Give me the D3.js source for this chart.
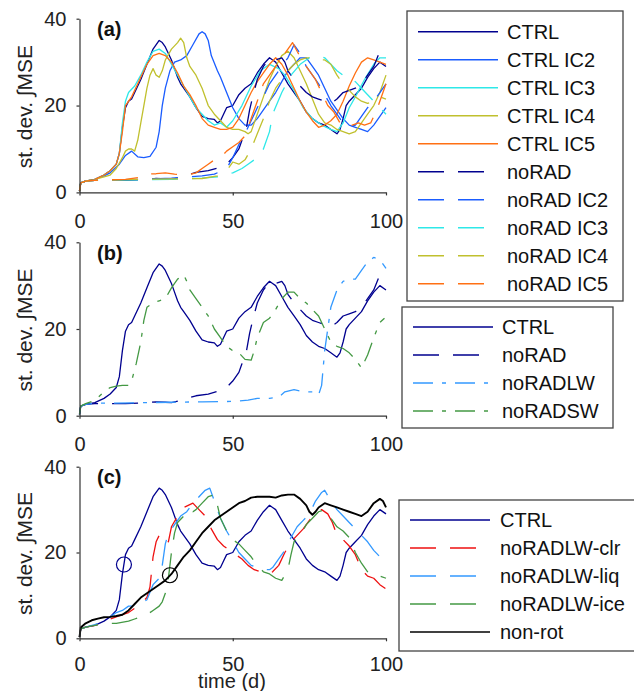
<!DOCTYPE html>
<html>
<head>
<meta charset="utf-8">
<script src="https://cdn.jsdelivr.net/npm/d3@7"></script>
<style>
  body { margin: 0; background: #fff; }
  text { font-family: "Liberation Sans", Arial, sans-serif; }
</style>
</head>
<body>
<div id="chart"></div>
<script>
// [day, value] pairs
var ctrl = [[0,0.3],[0.4,2.2],[2,2.6],[5,3],[8,4],[10,5],[12,6.5],[13,9],[14,15],[15,19.5],[16,21],[17,21.5],[18,23],[20,26],[22,29.5],[24,33],[26,35],[27,34.5],[28,33.5],[29,32],[30,30.5],[31,28.5],[32,26.5],[33,25],[34,24],[36,22],[38,19.5],[40,17.5],[42,17],[44,16.8],[45,16],[46,16.5],[47,18],[48,19.5],[50,20],[52,22.5],[54,24],[56,25],[58,27.5],[60,29.5],[62,31],[63,30.5],[64,30],[66,27.5],[68,25],[70,23],[72,21],[74,18.5],[76,17],[78,16],[80,15.5],[82,14.5],[84,13.5],[85,14.5],[86,17],[87,20],[88,21],[90,22.5],[92,24],[94,26.5],[96,28.5],[98,30],[100,29]];
var ctrlIC2 = [[0,0.3],[0.4,2.2],[2,2.6],[5,3],[8,3.8],[10,4.5],[13,6.5],[15,8.5],[17,9.5],[19,8.2],[21,8],[23,8.3],[25,10.4],[26,14],[27,20],[28,24],[29.5,28],[31,30],[33,30.5],[35,31.5],[37,34],[39,36.5],[40,37],[41,36.5],[42,35],[43,31.5],[45,28],[46,26.5],[48,23],[50,19.5],[52,17],[54,15.5],[56,15.5],[58,17],[60,19],[62,21],[64,23],[66,25.5],[68,28],[70,29.5],[72,31],[74,31],[76,29],[78,27],[80,24],[82,21],[84,19],[86,17],[88,15.5],[90,15],[92,14.5],[94,14],[96,15.5],[98,17.5],[100,19.5]];
var ctrlIC3 = [[0,0.3],[0.4,2.2],[2,2.6],[5,3],[8,4],[10,5],[12,6.5],[13,9],[14,16],[15,21],[16,23],[18,24.5],[20,27],[22,30],[24,32.5],[26,33],[28,32],[30,29.5],[32,27],[34,24.5],[36,22],[38,19.5],[40,18],[42,16.5],[44,15.5],[46,16],[48,15],[50,16.5],[53,20],[56,24.5],[59,28],[62,29.5],[65,28.5],[67,27],[70,23.5],[73,19.5],[76,17],[79,15.5],[82,14.5],[84,14],[86,16],[88,19.5],[90,22],[93,26],[96,29.5],[98,31],[100,31]];
var ctrlIC4 = [[0,0.3],[0.4,2.2],[2,2.6],[5,3],[8,3.6],[10,4],[12,5.5],[14,8],[15,9.5],[16,10],[17,10],[18,9.5],[19,12],[20,16],[21,20],[22,24],[23,27],[24,28.5],[25,27],[26,26.5],[27,28],[28,30.5],[30,33],[32,34.5],[33,35.5],[34,34.5],[35,31],[36,29],[38,27],[40,24],[42,20],[44,18],[46,16.5],[48,15],[50,14.5],[52,14.5],[54,14],[55,13.5],[56,14],[58,18],[60,22],[62,26],[64,29],[66,31.5],[68,32.5],[70,31],[72,28],[74,25],[76,21.5],[78,18],[80,16],[82,15.5],[84,14.5],[86,14],[88,13.5],[90,14],[92,16],[94,18],[96,20],[98,23],[100,27]];
var ctrlIC5 = [[0,0.3],[0.4,2.2],[2,2.6],[5,3],[8,4],[10,5],[12,6.5],[13,9],[14,14],[15,20],[17,22],[20,26.5],[22,29.5],[24,31.5],[26,32],[28,31.5],[30,30],[32,27.5],[34,24.5],[36,22.5],[38,20],[40,17],[42,15.5],[44,15],[46,14.5],[48,14.5],[50,15],[52,17],[54,20],[56,23],[58,25.5],[60,27.5],[62,29.5],[64,31],[66,29.5],[68,27],[70,24],[72,21],[74,18.5],[76,16.5],[78,15],[80,15.5],[82,16.5],[84,18],[86,21],[88,24.5],[90,27.5],[92,30],[94,31],[96,30.5],[98,30],[100,29.5]];
var noRAD = [[0,0.3],[0.4,2.2],[2,2.6],[5,2.8],[10,2.8],[15,2.8],[20,2.9],[25,3.2],[28,3.1],[30,3],[33,3.5],[35,4],[38,4.6],[42,5],[46,5.8],[48,6.5],[50,8],[52,10],[53,12],[54.5,15],[55.5,19],[56.5,22],[58,26],[60,29],[62,30.8],[64,30.5],[66,31],[67,30],[68,28],[70,26],[72,24.5],[74,23],[76,22],[78,21.5],[80,21],[82,20.5],[84,21.5],[86,23],[88,23.5],[90,24],[92,25],[94,27],[96,29],[98,32.5],[100,31.5]];
var noRADIC2 = [[0,0.3],[0.4,2.2],[2,2.6],[5,2.8],[10,2.9],[20,3],[30,3.3],[40,3.8],[44,4.2],[48,5.5],[50,8],[52,11],[54,13.5],[56,16.5],[58,19.5],[60,22],[62,25],[64,27],[66,29],[68,31],[70,34],[72,32],[74,29],[76,27],[78,25],[80,22.5],[82,20],[84,18],[86,16],[88,15],[90,15.5],[92,17.5],[94,19.5],[96,21],[98,23],[100,25]];
var noRADIC3 = [[0,0.3],[0.4,2.2],[2,2.6],[5,2.8],[10,2.8],[20,2.9],[30,3],[40,3.3],[45,3.6],[47,4],[50,4.5],[53,5.5],[55,6.5],[57,7.5],[60,10],[62,14],[63,18],[66,23],[69,27],[72,29.5],[75,31],[78,31.5],[80,31],[82,29.5],[84,28],[86,27],[88,26.5],[90,25.5],[92,24],[94,22.5],[96,21],[98,19.5],[100,18]];
var noRADIC4 = [[0,0.3],[0.4,2.2],[2,2.6],[5,2.8],[10,2.9],[20,3],[30,3.1],[40,3.2],[45,3.8],[48,5],[50,7],[52,6.5],[54,7.5],[56,10],[58,13.5],[60,17],[62,21],[64,24],[66,26],[68,28],[70,29.5],[72,30.5],[74,31],[76,31],[78,30.5],[80,30.5],[82,29.5],[84,27],[86,25],[88,23.5],[90,22],[92,21],[94,20.5],[96,21],[98,22],[100,21.5]];
var noRADIC5 = [[0,0.3],[0.4,2.2],[2,2.6],[5,2.8],[10,2.9],[15,3],[20,3.5],[22,4.2],[25,4.3],[28,4.5],[31,4.2],[35,4],[38,4.5],[40,5.5],[42,6.5],[44,7.5],[46,8],[48,9.5],[50,10.5],[52,11.5],[54,13],[56,17],[58,21],[60,25],[62,27],[64,29],[66,31],[68,33],[69.5,34.5],[71,32.5],[73,30],[75,28],[77,26],[79,23],[81,20],[83,18.5],[85,16],[87,15],[89,15.5],[91,16],[93,15.5],[95,16],[97,19],[99,23],[100,25]];
var noRADLW = [[0,0.3],[0.4,2.2],[2,2.6],[5,2.9],[10,2.9],[20,3],[30,3.1],[40,3.2],[50,3.3],[55,3.6],[58,4],[62,4],[65,4.3],[67,5.5],[70,6],[73,5.5],[76,5.5],[78,4.8],[79,7],[80,15],[81,20],[82,25],[84,29],[86,31],[88,31.5],[90,31.5],[92,33.5],[94,35.5],[96,36.5],[98,36],[100,34]];
var noRADSW = [[0,0.3],[0.4,2.2],[2,2.8],[5,3.5],[8,5.5],[10,6.5],[12,6.8],[14,7],[16,7],[17,8],[18.5,12],[20,17],[21,22],[22,25],[24,26],[26,26.5],[28,27],[30,29.5],[32,31.5],[34,32.5],[35,31],[36,29],[38,27],[40,25],[42,23],[44,20],[46,18],[48,16],[50,15],[52,14.5],[54,13],[56,12.8],[57,15],[58,18],[60,21.5],[62,22.5],[64,24.5],[66,27],[68,28.5],[70,28.5],[72,27],[74,26],[76,24.5],[78,23],[80,20],[82,17],[84,16],[86,15.5],[88,14.5],[90,13],[92,11],[94,14],[96,18],[98,21.5],[99.5,22.5]];
var lwClr = [[0,0.3],[0.4,2.2],[2,2.6],[5,3],[8,3.8],[10,4.5],[14,5.5],[16,6],[18,7],[20,8],[22,9.5],[23,12],[24,19],[25,22.5],[26,24],[27,24.5],[28,23.5],[29,22.5],[30,26],[32,28.5],[34,30.5],[37,31.5],[39,30],[41,28.5],[43,25.5],[45,23],[47,21.5],[49,20.5],[51,19.5],[53,18.5],[55,17],[57,16],[59,15.5],[61,15],[63,15.5],[65,17],[67,20],[69,22.5],[71,24],[73,25.5],[75,27.5],[77,29],[79,30],[81,29],[82.5,27],[84,24],[86,23],[88,21.5],[90,19.5],[92,16],[94,14.5],[96,14],[98,12.5],[100,11.5]];
var lwLiq = [[0,0.3],[0.4,2.2],[2,2.6],[5,3.2],[8,4],[10,5],[12,6],[14,6.5],[16,7.5],[18,7.5],[20,8],[22,9],[24,12.5],[26,14],[27,17],[28,22],[29,24.5],[31,26.5],[33,28.5],[35,29.5],[37,31.5],[39,33],[41,34.5],[42.5,35],[44,32],[46,28],[48,25],[50,22.5],[52,20],[54,18.5],[56,17],[58,16.5],[60,16],[62,16],[63,16.5],[65,18.5],[67,20.5],[69,23.5],[71,26],[73,27.5],[75,29],[77,32],[79,34],[80,34.5],[82,32],[84,30],[86,28.5],[88,27],[90,25.5],[92,24],[94,22.5],[96,20.5],[98,19],[100,17]];
var lwIce = [[0,0.3],[0.4,2.2],[2,2.6],[5,3],[9,3.5],[12,3.5],[16,4],[18,4.5],[20,5],[22,5.5],[24,6.5],[26,7.5],[27,8.5],[28,10.5],[29,14],[30,20],[31,24.5],[32,27],[34,28.5],[35,30],[37,29.5],[38,30],[40,31.5],[42,33],[44,33.5],[45,31],[46,28],[48,25],[50,23],[52,22],[54,20.5],[56,19],[58,17],[60,15.5],[62,15],[64,14],[66,13.5],[68,16],[69,19.5],[70,22.5],[72,24],[74,26.5],[76,28],[78,29.5],[80,30],[82,28],[84,26],[86,25],[88,23.5],[90,20],[92,17.5],[94,15.5],[96,14.5],[98,14.5],[100,14]];
var nonRot = [[0,0.3],[0.4,2.5],[2,3.5],[4,4.2],[6,4.6],[8,4.9],[10,5],[12,5.2],[14,5.5],[16,6.5],[18,8],[20,9.5],[22,10.5],[24,11.5],[26,12.5],[28,13.5],[30,15],[32,17],[34,19],[36,20.5],[38,22.5],[40,24.5],[42,26],[44,27.5],[46,28.5],[48,29.5],[50,30.5],[52,31.5],[54,32],[56,32.8],[58,33],[60,33],[62,33],[64,32.8],[66,33.3],[68,33.5],[70,33.5],[72,32.5],[74,31],[75,29.5],[76,28.8],[77,29.5],[78,30.5],[80,31.5],[82,31],[84,30.5],[86,30],[88,29.5],[90,29],[92,28.5],[94,29.5],[96,31.5],[98,32.5],[99,32],[100,30.5]];

// circled points in panel (c)
var markers = [[14.5, 17.2, "#00008f"], [29.5, 14.7, "#000"]];

var xTicks = [0, 50, 100];
var yTicks = [0, 20, 40];

var solid = null, dashed = "26,14", dashDot = "20,9,4,9";

var panels = [
  { label: "(a)", top: 18.7, bottom: 192.4,
    legend: { x0: 407, x1: 623, y0: 11, y1: 301, line: 418, text: 507, first: 31.7 },
    series: [
      { name: "CTRL", data: ctrl, color: "#00008f", dash: solid },
      { name: "CTRL IC2", data: ctrlIC2, color: "#1a5cff", dash: solid },
      { name: "CTRL IC3", data: ctrlIC3, color: "#2ee8e8", dash: solid },
      { name: "CTRL IC4", data: ctrlIC4, color: "#c0c02e", dash: solid },
      { name: "CTRL IC5", data: ctrlIC5, color: "#ff7014", dash: solid },
      { name: "noRAD", data: noRAD, color: "#00008f", dash: dashed },
      { name: "noRAD IC2", data: noRADIC2, color: "#1a5cff", dash: dashed },
      { name: "noRAD IC3", data: noRADIC3, color: "#2ee8e8", dash: dashed },
      { name: "noRAD IC4", data: noRADIC4, color: "#c0c02e", dash: dashed },
      { name: "noRAD IC5", data: noRADIC5, color: "#ff7014", dash: dashed }
    ] },
  { label: "(b)", top: 242.3, bottom: 415.7,
    legend: { x0: 402, x1: 613, y0: 307, y1: 428, line: 413, text: 502, first: 327 },
    series: [
      { name: "CTRL", data: ctrl, color: "#00008f", dash: solid },
      { name: "noRAD", data: noRAD, color: "#00008f", dash: dashed },
      { name: "noRADLW", data: noRADLW, color: "#3399ff", dash: dashDot },
      { name: "noRADSW", data: noRADSW, color: "#449944", dash: dashDot }
    ] },
  { label: "(c)", top: 466.7, bottom: 638.3, xTitle: "time (d)", circles: true,
    legend: { x0: 399, x1: 645, y0: 500, y1: 651, line: 410, text: 500, first: 520 },
    series: [
      { name: "CTRL", data: ctrl, color: "#00008f", dash: solid },
      { name: "noRADLW-clr", data: lwClr, color: "#ee1111", dash: dashed },
      { name: "noRADLW-liq", data: lwLiq, color: "#3399ff", dash: dashed },
      { name: "noRADLW-ice", data: lwIce, color: "#449944", dash: dashed },
      { name: "non-rot", data: nonRot, color: "#000000", dash: solid, width: 1.9 }
    ] }
];

var svg = d3.select("#chart").append("svg")
  .attr("width", 634)
  .attr("height", 691);

var x = d3.scaleLinear().domain([0, 100]).range([79.5, 386]);

panels.forEach(function (p) {
  var y = d3.scaleLinear().domain([0, 40]).range([p.bottom, p.top]);
  var g = svg.append("g");

  var line = d3.line()
    .x(function (d) { return x(d[0]); })
    .y(function (d) { return y(d[1]); });

  p.series.forEach(function (s) {
    g.append("path")
      .attr("d", line(s.data))
      .attr("fill", "none")
      .attr("stroke", s.color)
      .attr("stroke-width", s.width || 1.3)
      .attr("stroke-dasharray", s.dash)
      .attr("stroke-linejoin", "round");
  });

  if (p.circles) {
    markers.forEach(function (m) {
      g.append("circle")
        .attr("cx", x(m[0]))
        .attr("cy", y(m[1]))
        .attr("r", 7.5)
        .attr("fill", "none")
        .attr("stroke", m[2])
        .attr("stroke-width", 1.2);
    });
  }

  // axes
  var xAxis = g.append("g")
    .attr("transform", "translate(0," + p.bottom + ")")
    .call(d3.axisBottom(x).tickValues(xTicks).tickSize(3).tickSizeOuter(0).tickPadding(p.xTitle ? 16 : 18));
  var yAxis = g.append("g")
    .attr("transform", "translate(" + x(0) + ",0)")
    .call(d3.axisLeft(y).tickValues(yTicks).tickSize(3).tickSizeOuter(0).tickPadding(10));
  [xAxis, yAxis].forEach(function (a) {
    a.selectAll("path, line").attr("stroke", "#333").attr("stroke-width", 1.2);
    a.selectAll("text")
      .attr("fill", "#222")
      .style("font-size", "20px")
      .style("font-family", "'Liberation Sans', Arial, sans-serif");
  });

  g.append("text")
    .attr("x", 97)
    .attr("y", p.top + 17.5)
    .attr("font-size", 20)
    .attr("font-weight", "bold")
    .attr("fill", "#111")
    .text(p.label);

  g.append("text")
    .attr("transform", "translate(32," + ((p.top + p.bottom) / 2 + 1) + ") rotate(-90)")
    .attr("text-anchor", "middle")
    .attr("font-size", 21)
    .attr("fill", "#222")
    .text("st. dev.  \u222BMSE");

  if (p.xTitle) {
    g.append("text")
      .attr("x", 232)
      .attr("y", p.bottom + 49.5)
      .attr("text-anchor", "middle")
      .attr("font-size", 20)
      .attr("fill", "#222")
      .text(p.xTitle);
  }

  // legend
  var L = p.legend;
  var lg = svg.append("g");
  lg.append("rect")
    .attr("x", L.x0).attr("y", L.y0)
    .attr("width", L.x1 - L.x0).attr("height", L.y1 - L.y0)
    .attr("fill", "#fff")
    .attr("stroke", "#444")
    .attr("stroke-width", 1.3);
  p.series.forEach(function (s, i) {
    var cy = L.first + i * 28;
    lg.append("line")
      .attr("x1", L.line).attr("x2", L.line + 80)
      .attr("y1", cy).attr("y2", cy)
      .attr("stroke", s.color)
      .attr("stroke-width", s.width ? 1.6 : 1.4)
      .attr("stroke-dasharray", s.dash);
    lg.append("text")
      .attr("x", L.text)
      .attr("y", cy + 7)
      .attr("font-size", 20)
      .attr("fill", "#111")
      .text(s.name);
  });
});
</script>
</body>
</html>
